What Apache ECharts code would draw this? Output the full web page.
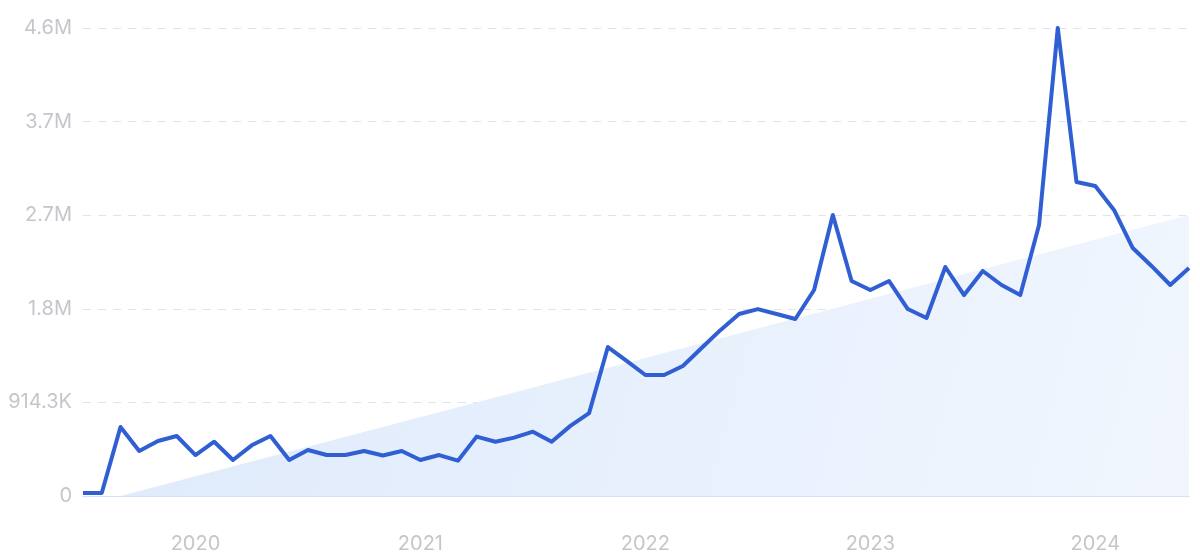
<!DOCTYPE html>
<html>
<head>
<meta charset="utf-8">
<script src="https://cdn.jsdelivr.net/npm/echarts@6/dist/echarts.min.js"></script>
<style>
  html, body { margin: 0; padding: 0; background: #ffffff; }
  #chart { width: 1200px; height: 559px; }
</style>
</head>
<body>
<div id="chart"></div>
<script>
// Monthly categories: Jul 2019 .. Jun 2024
const months = [
  '2019-07','2019-08','2019-09','2019-10','2019-11','2019-12',
  '2020-01','2020-02','2020-03','2020-04','2020-05','2020-06','2020-07','2020-08','2020-09','2020-10','2020-11','2020-12',
  '2021-01','2021-02','2021-03','2021-04','2021-05','2021-06','2021-07','2021-08','2021-09','2021-10','2021-11','2021-12',
  '2022-01','2022-02','2022-03','2022-04','2022-05','2022-06','2022-07','2022-08','2022-09','2022-10','2022-11','2022-12',
  '2023-01','2023-02','2023-03','2023-04','2023-05','2023-06','2023-07','2023-08','2023-09','2023-10','2023-11','2023-12',
  '2024-01','2024-02','2024-03','2024-04','2024-05','2024-06'
];

// Search volume
const volume = [
  30000, 30000, 674000, 440000, 537000, 586000,
  400000, 530000, 352000, 495000, 586000, 352000, 449000, 400000, 400000, 440000, 395000, 440000,
  352000, 400000, 345000, 580000, 530000, 570000, 628000, 530000, 685000, 810000, 1455000, 1319000,
  1182000, 1182000, 1270000, 1445000, 1620000, 1778000, 1826000, 1778000, 1729000, 2012000, 2745000, 2100000,
  2012000, 2100000, 1826000, 1739000, 2237000, 1963000, 2198000, 2061000, 1963000, 2647000, 4571500, 3067000,
  3028000, 2794000, 2422000, 2247000, 2061000, 2227000
];

// Trend (linear) endpoints, connected across nulls
const trend = [
  null, null, 0, null, null, null,
  null, null, null, null, null, null, null, null, null, null, null, null,
  null, null, null, null, null, null, null, null, null, null, null, null,
  null, null, null, null, null, null, null, null, null, null, null, null,
  null, null, null, null, null, null, null, null, null, null, null, null,
  null, null, null, null, null, 2745000
];

// Y axis ticks
const yMax = 4571500;
const yInterval = 914300;

function fmt(v) {
  if (v >= 1e6) return (v / 1e6).toFixed(1) + 'M';
  if (v >= 1e3) return (v / 1e3).toFixed(1) + 'K';
  return String(v);
}

const chart = echarts.init(document.getElementById('chart'), null, { renderer: 'canvas' });
chart.setOption({
  animation: false,
  backgroundColor: '#ffffff',
  grid: { left: 83, right: 11, top: 28, bottom: 63 },
  xAxis: {
    type: 'category',
    data: months,
    boundaryGap: false,
    axisLine: { show: true, lineStyle: { color: '#d3e1f6', width: 1 } },
    axisTick: { show: false },
    splitLine: { show: false },
    axisLabel: {
      interval: function (i, v) { return v.slice(5) === '01'; },
      formatter: function (v) { return v.slice(0, 4); },
      color: '#c4c6cc',
      fontFamily: 'Inter',
      fontSize: 20,
      margin: 38
    }
  },
  yAxis: {
    type: 'value',
    min: 0,
    max: yMax,
    interval: yInterval,
    axisLine: { show: false },
    axisTick: { show: false },
    axisLabel: {
      formatter: fmt,
      color: '#c4c6cc',
      fontFamily: 'Inter',
      fontSize: 20,
      margin: 11
    },
    splitLine: {
      show: true,
      lineStyle: { color: '#dce4f2', type: [8, 7], width: 1 }
    }
  },
  series: [
    {
      type: 'line',
      data: trend,
      connectNulls: true,
      showSymbol: false,
      symbol: 'none',
      lineStyle: { width: 0 },
      areaStyle: {
        color: new echarts.graphic.LinearGradient(0, 0, 1, 1, [
          { offset: 0, color: '#deeafb' },
          { offset: 1, color: '#f1f6fe' }
        ]),
        opacity: 1
      },
      z: 1,
      silent: true
    },
    {
      type: 'line',
      data: volume,
      showSymbol: false,
      symbol: 'none',
      lineStyle: { color: '#2f5fd3', width: 4, join: 'round' },
      z: 3
    }
  ]
});
</script>
</body>
</html>
